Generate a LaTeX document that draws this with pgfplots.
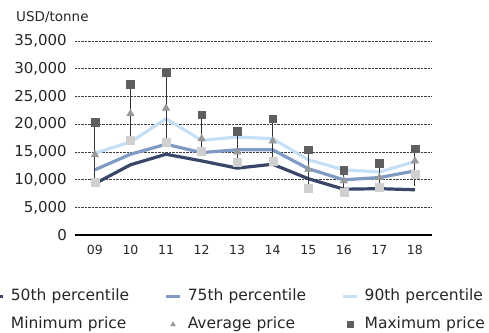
\documentclass[border=0pt]{standalone}
\usepackage{fontspec}
\setmainfont{DejaVu Sans}
\usepackage{pgfplots}
\usepackage{pgfplotstable}
\pgfplotsset{compat=1.18}

\definecolor{pfifty}{HTML}{3A4668}
\definecolor{pseventy}{HTML}{7F9AC3}
\definecolor{pninety}{HTML}{C5E0F6}
\definecolor{minc}{HTML}{D0D0D0}
\definecolor{avgc}{HTML}{999999}
\definecolor{maxc}{HTML}{5F5F5F}
\definecolor{txt}{HTML}{262626}

% legend symbols: a short thick stroke for lines, a small mark for points
\pgfplotsset{
  stroke legend/.style={legend image code/.code={\draw[##1, line width=3.5pt] (0pt,0pt) -- (14pt,0pt);}},
  mark legend/.style={legend image code/.code={\path (0pt,0pt) (14pt,0pt); \draw[##1, mark size=#1] plot coordinates {(7pt,0pt)};}},
}

% price statistics per year, USD/tonne; err = distance from maximum down to the low end of the range line
\pgfplotstableread{
x  p50    p75    p90    pmin   pavg   pmax   err
0  9300   11800  14800  9500   14500  20400  10900
1  12700  14600  16800  17100  21900  27200  10100
2  14600  16400  21000  16800  22900  29400  12600
3  13400  14900  17100  15200  17400  21700  6500
4  12100  15400  17700  13200  15000  18700  5500
5  12800  15400  17400  13400  17000  21000  7600
6  10200  12000  13600  8400   11900  15400  7000
7  8300   10000  11800  7700   9800   11700  4000
8  8400   10400  11400  8700   10400  13000  4300
9  8200   11600  13300  11000  13400  15600  6700
}\prices

\begin{document}
\begin{tikzpicture}
\begin{axis}[
  name=ax,
  scale only axis, width=357pt, height=194.3pt,
  xmin=-0.56, xmax=9.48, ymin=0, ymax=35000,
  clip=false,
  xtick={0,...,9},
  xticklabels={09,10,11,12,13,14,15,16,17,18},
  ytick={5000,10000,...,35000},
  extra y ticks={0},
  extra y tick style={ymajorgrids=true, major grid style={solid, black, line width=1.6pt}},
  scaled y ticks=false,
  /pgf/number format/assume math mode=true,
  /pgf/number format/1000 sep={,},
  axis line style={draw=none},
  major tick length=0pt,
  ymajorgrids,
  major grid style={densely dotted, black!75, line width=0.6pt},
  yticklabel style={font=\fontsize{15}{18}\selectfont, text=txt, inner sep=0pt, anchor=east, xshift=-8pt},
  xticklabel style={font=\fontsize{12.5}{15}\selectfont, text=txt, inner sep=0pt, anchor=north, yshift=-9.5pt},
  legend columns=3,
  legend cell align=left,
  legend style={
    at={(-0.2454,-0.2764)}, anchor=north west,
    draw=none, fill=none, inner sep=0pt, outer sep=0pt,
    row sep=13pt,
    nodes={inner sep=0pt, text width=153.4pt, text height=11pt, text depth=4pt,
           font=\fontsize{15.5}{18}\selectfont, text=txt},
    /tikz/every odd column/.append style={column sep=6pt},
    /tikz/every even column/.append style={column sep=0pt},
  },
]
% percentile lines
\addplot[pfifty, line width=3.2pt, no markers, line join=round, stroke legend]
  table[x=x, y=p50] {\prices};
\addlegendentry{50th percentile}
\addplot[pseventy, line width=3.2pt, no markers, line join=round, stroke legend]
  table[x=x, y=p75] {\prices};
\addlegendentry{75th percentile}
\addplot[pninety, line width=3.2pt, no markers, line join=round, stroke legend]
  table[x=x, y=p90] {\prices};
\addlegendentry{90th percentile}
% range lines from the maximum down
\addplot[only marks, mark=none, forget plot,
  error bars/.cd, y dir=minus, y explicit, error mark=none,
  error bar style={line width=1pt, black!80}]
  table[x=x, y=pmax, y error minus=err] {\prices};
% price markers
\addplot[only marks, mark=square*, mark size=4pt, color=minc, mark legend=2.6pt]
  table[x=x, y=pmin] {\prices};
\addlegendentry{Minimum price}
\addplot[only marks, mark=triangle*, mark size=4.3pt, color=avgc, mark legend=2.8pt]
  table[x=x, y=pavg] {\prices};
\addlegendentry{Average price}
\addplot[only marks, mark=square*, mark size=3.8pt, color=maxc, mark legend=2.9pt]
  table[x=x, y=pmax] {\prices};
\addlegendentry{Maximum price}
\node[anchor=base west, inner sep=0pt, font=\fontsize{13.5}{16}\selectfont, text=txt]
  at (rel axis cs:-0.1653,1.1014) {USD/tonne};
\end{axis}
\pgfresetboundingbox
\path[use as bounding box] ([shift={(-75pt,-97.7pt)}]ax.south west) rectangle ([shift={(57pt,41pt)}]ax.north east);
\end{tikzpicture}
\end{document}
